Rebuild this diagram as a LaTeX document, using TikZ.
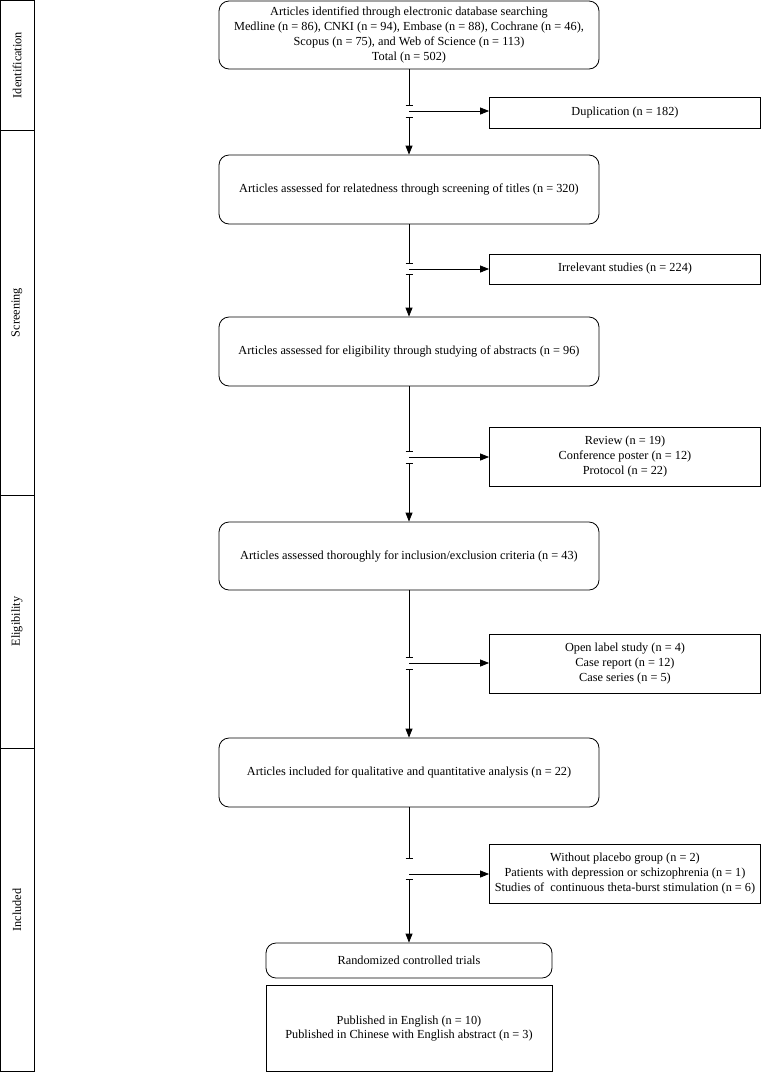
\documentclass[tikz,border=0pt]{standalone}
\usepackage{fontspec}
\setmainfont{Liberation Serif}
\usetikzlibrary{arrows.meta}
\begin{document}
\begin{tikzpicture}[x=1pt,y=-1pt,
  every node/.style={font=\fontsize{12.3}{14.7}\selectfont},
  mainbox/.style={draw, line width=0.8pt, rounded corners=10pt, minimum width=380pt, align=center, inner sep=0pt},
  sidebox/.style={draw, line width=0.8pt, minimum width=271pt, align=center, inner sep=0pt},
  conn/.style={line width=0.8pt},
  arr/.style={conn, -{Triangle[length=9pt,width=7pt]}},
  tickmark/.style={line width=0.8pt},
  sect/.style={rotate=90, inner sep=0pt}
]
\useasboundingbox (0,0) rectangle (761,1072);
% section band
\draw[line width=0.8pt] (0.5,0.5) rectangle (34,1071.5);
\draw[line width=0.8pt] (0.5,130) -- (34,130);
\draw[line width=0.8pt] (0.5,495) -- (34,495);
\draw[line width=0.8pt] (0.5,748) -- (34,748);
\node[sect] (sid) at (17,65) {Identification};
\node[sect] (sscr) at (17,312.5) {Screening};
\node[sect] (sel) at (17,621.5) {Eligibility};
\node[sect] (sinc) at (17,910) {Included};
% main boxes
\node[mainbox, minimum height=68pt] (b1) at (409,35) {Articles identified through electronic database searching\\Medline (n = 86), CNKI (n = 94), Embase (n = 88), Cochrane (n = 46),\\Scopus (n = 75), and Web of Science (n = 113)\\Total (n = 502)};
\node[mainbox, minimum height=69pt] (b2) at (409,189.5) {Articles assessed for relatedness through screening of titles (n = 320)};
\node[mainbox, minimum height=69pt] (b3) at (409,351.5) {Articles assessed for eligibility through studying of abstracts (n = 96)};
\node[mainbox, minimum height=68pt] (b4) at (409,556) {Articles assessed thoroughly for inclusion/exclusion criteria (n = 43)};
\node[mainbox, minimum height=69pt] (b5) at (409,772.5) {Articles included for qualitative and quantitative analysis (n = 22)};
\node[mainbox, minimum width=286pt, minimum height=35pt] (rct) at (409,960.5) {Randomized controlled trials};
\node[draw, line width=0.8pt, minimum width=286pt, minimum height=86pt, align=center, inner sep=0pt] (pub) at (409,1028.5) {Published in English (n = 10)\\Published in Chinese with English abstract (n = 3)};
% side boxes
\node[sidebox, minimum height=31pt] (dup) at (625,112.5) {Duplication (n = 182)};
\node[sidebox, minimum height=30pt] (irr) at (625,269) {Irrelevant studies (n = 224)};
\node[sidebox, minimum height=59pt] (rev) at (625,456.5) {Review (n = 19)\\Conference poster (n = 12)\\Protocol (n = 22)};
\node[sidebox, minimum height=59pt] (opl) at (625,663.5) {Open label study (n = 4)\\Case report (n = 12)\\Case series (n = 5)};
\node[sidebox, minimum height=59pt] (npl) at (625,873.5) {Without placebo group (n = 2)\\Patients with depression or schizophrenia (n = 1)\\Studies of~ continuous theta-burst stimulation (n = 6)};
% junction coordinates
\coordinate (j1a) at (409,105); \coordinate (j1m) at (409,111); \coordinate (j1b) at (409,117);
\coordinate (j2a) at (409,263); \coordinate (j2m) at (409,269); \coordinate (j2b) at (409,274);
\coordinate (j3a) at (409,451); \coordinate (j3m) at (409,457); \coordinate (j3b) at (409,463);
\coordinate (j4a) at (409,657); \coordinate (j4m) at (409,663); \coordinate (j4b) at (409,669);
\coordinate (j5a) at (409,858); \coordinate (j5m) at (409,874); \coordinate (j5b) at (409,879);
% connectors
\foreach \t/\j/\n/\s in {b1/1/b2/dup, b2/2/b3/irr, b3/3/b4/rev, b4/4/b5/opl, b5/5/rct/npl}{
  \draw[conn] (\t.south) -- (j\j a);
  \draw[tickmark] ([xshift=-3.5pt]j\j a) -- ([xshift=3.5pt]j\j a);
  \draw[tickmark] ([xshift=-3.5pt]j\j b) -- ([xshift=3.5pt]j\j b);
  \draw[arr] (j\j b) -- (\n.north);
  \draw[arr] (j\j m) -- (\s.west |- j\j m);
}
\end{tikzpicture}
\end{document}
